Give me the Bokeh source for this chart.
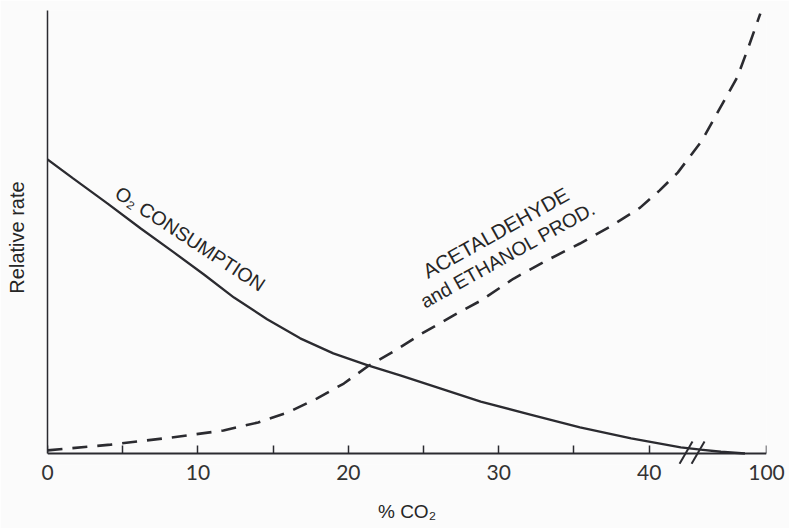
import numpy as np
from bokeh.plotting import figure
from bokeh.models import Range1d, FixedTicker, LinearAxis
from bokeh.core.properties import value
from bokeh.embed import file_html
from bokeh.resources import INLINE

# ---------------- data ----------------
x_ticks = [0, 10, 20, 30, 40, 100]
x_minor_ticks = [5, 15, 25, 35]
x_tick_labels = ["0", "10", "20", "30", "40", "100"]

# O2 consumption (relative rate, arbitrary 0-100 scale) vs % CO2
o2_co2 = [0, 1.7, 4.0, 6.2, 8.4, 10.4, 12.4, 14.6, 16.8, 19.0, 21.3, 23.5,
          26.1, 28.8, 32.1, 35.4, 38.8, 42.1, 48, 64, 83]
o2_rate = [66.4, 62.1, 56.4, 50.8, 45.4, 40.4, 35.2, 30.3, 26.0, 22.6, 19.9,
           17.6, 14.7, 11.7, 8.8, 5.9, 3.4, 1.4, 0.9, 0.4, 0.0]

# Acetaldehyde and ethanol production vs % CO2
ald_co2 = [0, 4.2, 8.2, 11.7, 14.0, 16.0, 17.9, 19.7, 21.3, 23.0, 24.8, 27.0,
           28.8, 31.0, 33.2, 35.4, 37.4, 39.4, 40.7, 41.9, 42.7, 49.2, 63.5,
           76.9, 85.6, 95.1]
ald_rate = [0.7, 2.0, 3.6, 5.2, 7.0, 9.3, 12.4, 15.8, 19.7, 23.0, 26.9, 31.2,
            34.5, 39.5, 43.6, 47.4, 51.2, 55.5, 59.4, 63.4, 67.0, 70.7, 78.1,
            84.9, 91.6, 99.3]

# broken x axis: linear up to BREAK, then 43..100 compressed
BREAK = 43.0
AXIS_END = 100.0
COMPRESSED = 4.8


def to_axis(pct):
    pct = np.asarray(pct, dtype=float)
    return np.where(pct <= BREAK, pct,
                    BREAK + (pct - BREAK) * COMPRESSED / (AXIS_END - BREAK))


INK = "#2b2b30"
TXT = "#262626"
BG = "#fbfbfb"

tick_pos = [float(v) for v in to_axis(x_ticks)]
minor_pos = [float(v) for v in to_axis(x_minor_ticks)]

p = figure(width=789, height=528, output_backend="svg", toolbar_location=None,
           x_range=Range1d(0, tick_pos[-1]), y_range=Range1d(-2.48, 100),
           min_border_left=47, min_border_right=23, min_border_top=10,
           min_border_bottom=64)
p.background_fill_color = BG
p.border_fill_color = BG
p.outline_line_color = None
p.grid.visible = False

# x axis labels (in the panel below the frame)
xa = p.xaxis[0]
xa.ticker = FixedTicker(ticks=tick_pos, minor_ticks=minor_pos)
xa.major_label_overrides = {pos: lab for pos, lab in zip(tick_pos, x_tick_labels)}
xa.axis_line_color = None
xa.major_tick_line_color = None
xa.minor_tick_line_color = None
xa.major_tick_in = 0
xa.major_tick_out = 0
xa.minor_tick_in = 0
xa.minor_tick_out = 0
xa.major_label_standoff = 0
xa.major_label_text_font = "Lato"
xa.major_label_text_font_size = "21px"
xa.major_label_text_color = "#333333"
xa.axis_label = "% CO\u2082"
xa.axis_label_text_font = "Liberation Sans"
xa.axis_label_text_font_style = "normal"
xa.axis_label_text_font_size = "19px"
xa.axis_label_text_color = TXT
xa.axis_label_standoff = 18

# x axis line and ticks, drawn at y = 0 so the break marks can cross it
xline = LinearAxis(fixed_location=0,
                   ticker=FixedTicker(ticks=tick_pos, minor_ticks=minor_pos))
xline.major_label_text_font_size = "0px"
xline.major_label_text_color = None
xline.major_tick_in = 8
xline.major_tick_out = 0
xline.minor_tick_in = 8
xline.minor_tick_out = 0
xline.major_tick_line_color = INK
xline.minor_tick_line_color = INK
xline.major_tick_line_width = 1.5
xline.minor_tick_line_width = 1.5
xline.axis_line_color = INK
xline.axis_line_width = 2
p.add_layout(xline, "below")

# y axis
ya = p.yaxis[0]
ya.bounds = (0, 100)
ya.ticker = FixedTicker(ticks=[])
ya.major_tick_in = 0
ya.major_tick_out = 0
ya.minor_tick_in = 0
ya.minor_tick_out = 0
ya.axis_line_color = INK
ya.axis_line_width = 1.5
ya.axis_label = "Relative rate"
ya.axis_label_text_font = "Liberation Sans"
ya.axis_label_text_font_style = "normal"
ya.axis_label_text_font_size = "20px"
ya.axis_label_text_color = TXT
ya.axis_label_standoff = 20

# curves
p.line(to_axis(o2_co2), o2_rate, line_color=INK, line_width=2.3)
p.line(to_axis(ald_co2), ald_rate, line_color=INK, line_width=2.6,
       line_dash="15 10")

# axis break marks
brk_x = np.array([BREAK - 0.55, BREAK + 0.25])
p.segment(x0=brk_x - 0.43, y0=[-2.3, -2.3], x1=brk_x + 0.43, y1=[2.7, 2.7],
          line_color=INK, line_width=2)

# curve labels
p.text(x=[9.5], y=[48.5], text=["O\u2082 CONSUMPTION"], angle=-0.58,
       text_font=value("Liberation Sans"), text_font_size="19.5px",
       text_color=TXT, text_align="center", text_baseline="middle")
p.text(x=[29.8, 30.6], y=[49.9, 44.9],
       text=["ACETALDEHYDE", "and ETHANOL PROD."], angle=0.51,
       text_font=value("Liberation Sans"), text_font_size=["20.5px", "19.5px"],
       text_color=TXT, text_align="center", text_baseline="middle")

open("out.html", "w").write(file_html(p, INLINE))
